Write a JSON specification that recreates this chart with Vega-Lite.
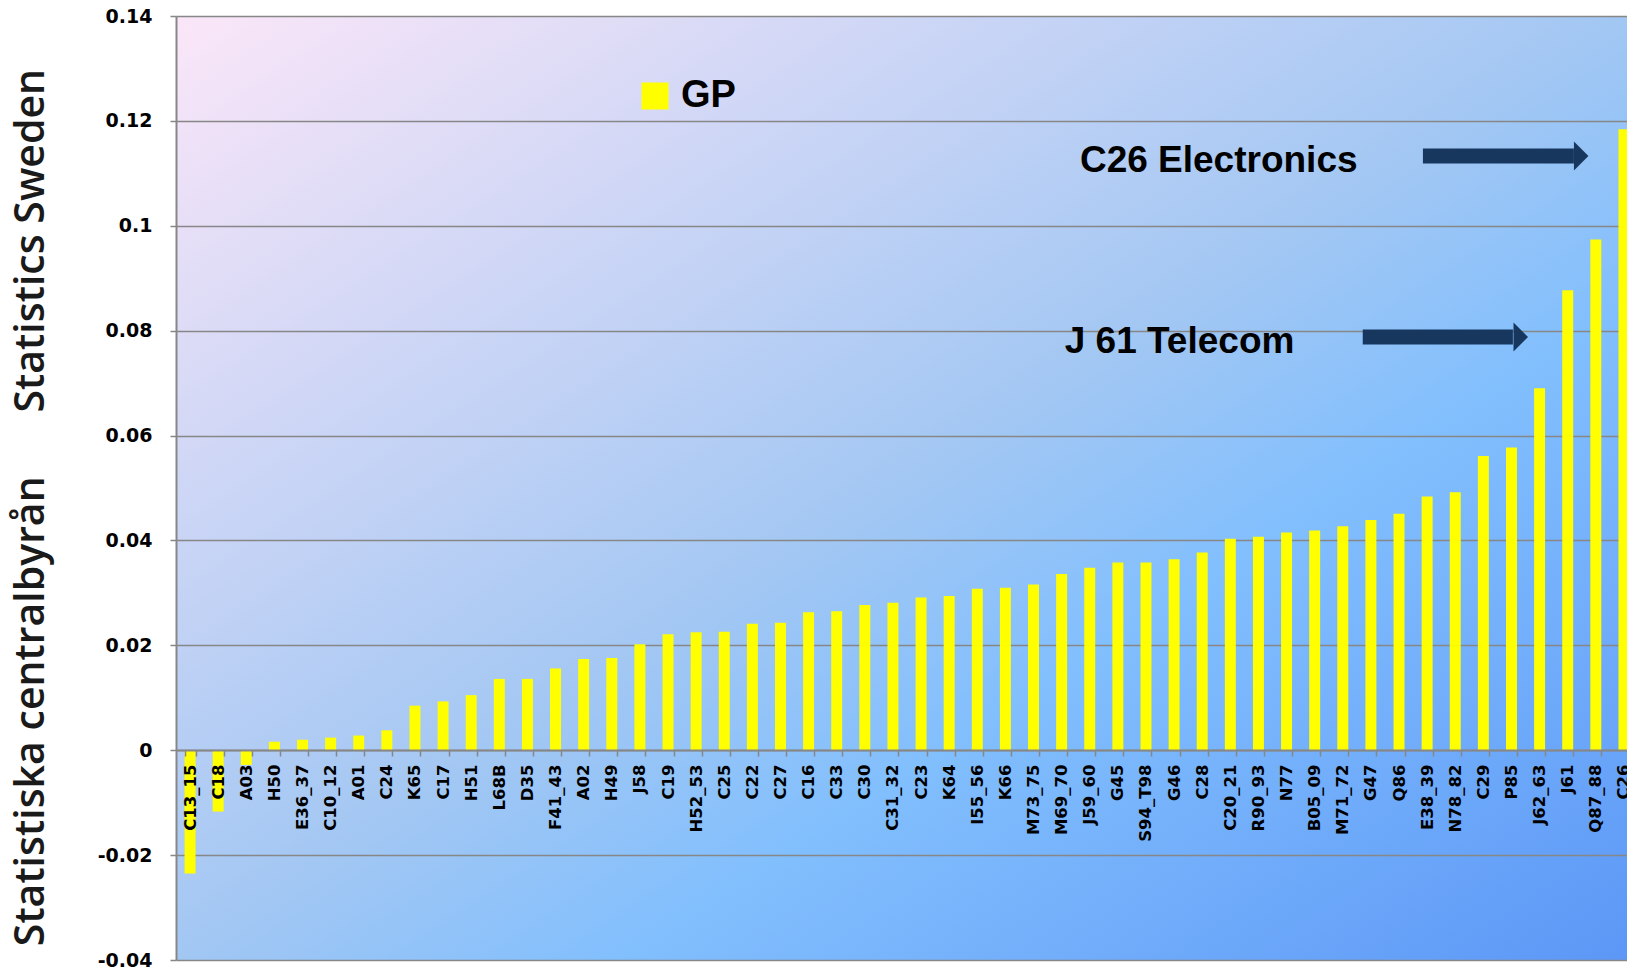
{
  "$schema": "https://vega.github.io/schema/vega-lite/v6.json",
  "width": 1451,
  "height": 944,
  "autosize": {"type": "none"},
  "padding": {"left": 176, "top": 16, "right": 0, "bottom": 13},
  "background": "#ffffff",
  "config": {
    "view": {
      "stroke": null,
      "fill": {
        "gradient": "linear",
        "x1": 0, "y1": 0, "x2": 1, "y2": 1,
        "stops": [
          {"offset": 0, "color": "#fbe6f8"},
          {"offset": 0.5, "color": "#a2c7f3"},
          {"offset": 0.65, "color": "#82bffd"},
          {"offset": 1, "color": "#5c97f6"}
        ]
      }
    }
  },
  "datasets": {
    "bars": [
      {"code": "C13_15", "value": -0.0235, "series": "GP"},
      {"code": "C18", "value": -0.0117, "series": "GP"},
      {"code": "A03", "value": -0.0028, "series": "GP"},
      {"code": "H50", "value": 0.0016, "series": "GP"},
      {"code": "E36_37", "value": 0.0020, "series": "GP"},
      {"code": "C10_12", "value": 0.0024, "series": "GP"},
      {"code": "A01", "value": 0.0028, "series": "GP"},
      {"code": "C24", "value": 0.0038, "series": "GP"},
      {"code": "K65", "value": 0.0085, "series": "GP"},
      {"code": "C17", "value": 0.0093, "series": "GP"},
      {"code": "H51", "value": 0.0105, "series": "GP"},
      {"code": "L68B", "value": 0.0136, "series": "GP"},
      {"code": "D35", "value": 0.0136, "series": "GP"},
      {"code": "F41_43", "value": 0.0156, "series": "GP"},
      {"code": "A02", "value": 0.0174, "series": "GP"},
      {"code": "H49", "value": 0.0176, "series": "GP"},
      {"code": "J58", "value": 0.0202, "series": "GP"},
      {"code": "C19", "value": 0.0221, "series": "GP"},
      {"code": "H52_53", "value": 0.0225, "series": "GP"},
      {"code": "C25", "value": 0.0226, "series": "GP"},
      {"code": "C22", "value": 0.0241, "series": "GP"},
      {"code": "C27", "value": 0.0243, "series": "GP"},
      {"code": "C16", "value": 0.0263, "series": "GP"},
      {"code": "C33", "value": 0.0265, "series": "GP"},
      {"code": "C30", "value": 0.0277, "series": "GP"},
      {"code": "C31_32", "value": 0.0281, "series": "GP"},
      {"code": "C23", "value": 0.0291, "series": "GP"},
      {"code": "K64", "value": 0.0294, "series": "GP"},
      {"code": "I55_56", "value": 0.0308, "series": "GP"},
      {"code": "K66", "value": 0.0310, "series": "GP"},
      {"code": "M73_75", "value": 0.0316, "series": "GP"},
      {"code": "M69_70", "value": 0.0336, "series": "GP"},
      {"code": "J59_60", "value": 0.0348, "series": "GP"},
      {"code": "G45", "value": 0.0358, "series": "GP"},
      {"code": "S94_T98", "value": 0.0358, "series": "GP"},
      {"code": "G46", "value": 0.0364, "series": "GP"},
      {"code": "C28", "value": 0.0377, "series": "GP"},
      {"code": "C20_21", "value": 0.0403, "series": "GP"},
      {"code": "R90_93", "value": 0.0407, "series": "GP"},
      {"code": "N77", "value": 0.0415, "series": "GP"},
      {"code": "B05_09", "value": 0.0419, "series": "GP"},
      {"code": "M71_72", "value": 0.0427, "series": "GP"},
      {"code": "G47", "value": 0.0439, "series": "GP"},
      {"code": "Q86", "value": 0.0451, "series": "GP"},
      {"code": "E38_39", "value": 0.0484, "series": "GP"},
      {"code": "N78_82", "value": 0.0492, "series": "GP"},
      {"code": "C29", "value": 0.0561, "series": "GP"},
      {"code": "P85", "value": 0.0577, "series": "GP"},
      {"code": "J62_63", "value": 0.0690, "series": "GP"},
      {"code": "J61", "value": 0.0877, "series": "GP"},
      {"code": "Q87_88", "value": 0.0974, "series": "GP"},
      {"code": "C26", "value": 0.1184, "series": "GP"}
    ],
    "labels": [
      {"label": "C26 Electronics", "pos": 32.15, "value": 0.11026},
      {"label": "J 61 Telecom", "pos": 31.61, "value": 0.07578}
    ],
    "arrows": [
      {"start": 44.35, "end": 49.72, "head": 49.98, "value": 0.11331},
      {"start": 42.21, "end": 47.55, "head": 47.83, "value": 0.07879}
    ]
  },
  "layer": [
    {
      "data": {"name": "bars"},
      "mark": {"type": "bar"},
      "encoding": {
        "x": {
          "field": "code",
          "type": "nominal",
          "sort": null,
          "scale": {"range": [0, 1462], "paddingInner": 0.61, "paddingOuter": 0.305},
          "axis": {
            "orient": "bottom",
            "offset": -210,
            "title": null,
            "labelAngle": -90,
            "labelFont": "DejaVu Sans",
            "labelFontWeight": "bold",
            "labelFontSize": 16.5,
            "labelColor": "#000000",
            "labelPadding": 8,
            "labelOverlap": false,
            "tickBand": "extent",
            "tickSize": 6,
            "tickWidth": 1.5,
            "tickColor": "#878787",
            "domainColor": "#878787",
            "domainWidth": 2,
            "grid": false,
            "zindex": 1
          }
        },
        "y": {
          "field": "value",
          "type": "quantitative",
          "scale": {"domain": [-0.04, 0.14], "nice": false, "zero": false},
          "axis": {
            "values": [-0.04, -0.02, 0, 0.02, 0.04, 0.06, 0.08, 0.1, 0.12, 0.14],
            "labelExpr": "toString(round(datum.value*100)/100)",
            "grid": true,
            "gridColor": "#878787",
            "gridWidth": 1.5,
            "domainColor": "#878787",
            "domainWidth": 2,
            "tickColor": "#878787",
            "tickSize": 6,
            "tickWidth": 1.5,
            "labelFont": "DejaVu Sans",
            "labelFontWeight": "bold",
            "labelFontSize": 19,
            "labelColor": "#000000",
            "labelPadding": 18,
            "title": "Statistiska centralbyrån\u00a0\u00a0\u00a0\u00a0\u00a0\u00a0Statistics Sweden",
            "titleFont": "Open Sans",
            "titleFontSize": 41,
            "titleFontWeight": 600,
            "titleColor": "#1a1a1a",
            "titleAngle": -90,
            "titleX": -145,
            "titleY": 491,
            "titleAlign": "center",
            "titleBaseline": "middle"
          }
        },
        "color": {
          "field": "series",
          "type": "nominal",
          "scale": {"domain": ["GP"], "range": ["#ffff00"]},
          "legend": {
            "orient": "none",
            "legendX": 460,
            "legendY": 61,
            "title": null,
            "padding": 0,
            "symbolType": "square",
            "symbolSize": 729,
            "symbolStrokeWidth": 0,
            "symbolOpacity": 1,
            "labelFont": "Liberation Sans",
            "labelFontWeight": "bold",
            "labelFontSize": 38,
            "labelColor": "#000000",
            "labelOffset": 7
          }
        }
      }
    },
    {
      "data": {"name": "labels"},
      "mark": {"type": "text", "align": "left", "baseline": "alphabetic", "font": "Liberation Sans", "fontWeight": "bold", "fontSize": 37, "color": "#000000"},
      "encoding": {
        "x": {"field": "pos", "type": "quantitative", "scale": {"domain": [0, 52], "range": [0, 1462]}, "axis": null},
        "y": {"field": "value", "type": "quantitative"},
        "text": {"field": "label"}
      }
    },
    {
      "data": {"name": "arrows"},
      "mark": {"type": "rule", "strokeWidth": 15, "strokeCap": "butt", "color": "#17375e"},
      "encoding": {
        "x": {"field": "start", "type": "quantitative", "scale": {"domain": [0, 52], "range": [0, 1462]}, "axis": null},
        "x2": {"field": "end"},
        "y": {"field": "value", "type": "quantitative"}
      }
    },
    {
      "data": {"name": "arrows"},
      "mark": {"type": "point", "shape": "M -0.5 -1 L 0.5 0 L -0.5 1 Z", "size": 841, "filled": true, "opacity": 1, "color": "#17375e"},
      "encoding": {
        "x": {"field": "head", "type": "quantitative", "scale": {"domain": [0, 52], "range": [0, 1462]}, "axis": null},
        "y": {"field": "value", "type": "quantitative"}
      }
    }
  ],
  "resolve": {"scale": {"x": "independent"}}
}
